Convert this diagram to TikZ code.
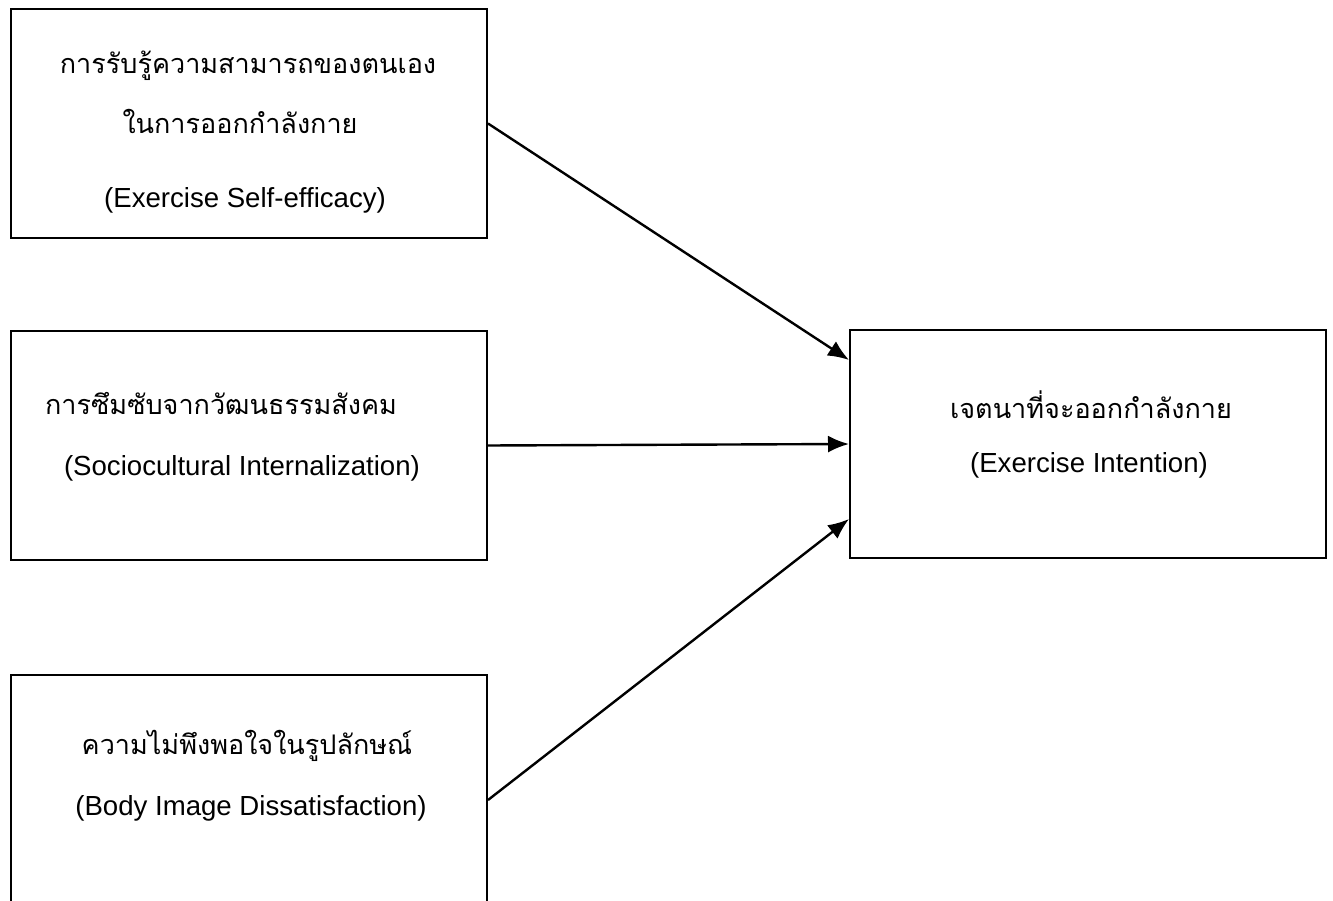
\documentclass[tikz,border=0pt]{standalone}
\usepackage{fontspec}
\setmainfont{Liberation Sans}
\newfontfamily\thaifont[Script=Thai]{Loma}
\usetikzlibrary{arrows.meta}

\tikzset{
  factor/.style={draw, line width=2pt, minimum width=476pt, minimum height=229pt, inner sep=0pt, anchor=north west},
  enlbl/.style={inner sep=0pt, font=\fontsize{27.6}{32}\selectfont},
  thlbl/.style={inner sep=0pt, anchor=base, font=\thaifont\fontsize{27}{32}\selectfont},
  effect/.style={-{Latex[length=21pt,width=17pt]}, line width=2.4pt},
}

\begin{document}
\begin{tikzpicture}[x=1pt,y=-1pt]
            \useasboundingbox (0,0) rectangle (1333,901);
            \clip (0,0) rectangle (1333,901);
            \node[factor] (selfeff) at (10,8) {};
            \node[factor] (sociocult) at (10,330) {};
            \node[factor, minimum height=240pt] (bodyimg) at (10,674) {};
            \node[factor, minimum height=228pt] (intention) at (849,329) {};
            \node[thlbl] (selfeffth) at (248,74) {การรับรู้ความสามารถของตนเอง};
            \node[thlbl] (selfeffthb) at (240,134) {ในการออกกำลังกาย};
            \node[enlbl] (selfeffen) at (245,200) {(Exercise Self-efficacy)};
            \node[thlbl] (sociocultth) at (221,414) {การซึมซับจากวัฒนธรรมสังคม};
            \node[enlbl] (sociculten) at (242,468) {(Sociocultural Internalization)};
            \node[thlbl] (bodyimgth) at (247,754) {ความไม่พึงพอใจในรูปลักษณ์};
            \node[enlbl] (bodyimgen) at (251,808) {(Body Image Dissatisfaction)};
            \node[thlbl] (intentionth) at (1091,418) {เจตนาที่จะออกกำลังกาย};
            \node[enlbl] (intentionen) at (1089,465) {(Exercise Intention)};
            \draw[effect] (selfeff.east) -- ([yshift=-31pt]intention.north west);
            \draw[effect] (sociocult.east) -- (intention.west);
            \draw[effect] ([yshift=-126pt]bodyimg.north east) -- ([yshift=40pt]intention.south west);
        \end{tikzpicture}
\end{document}
